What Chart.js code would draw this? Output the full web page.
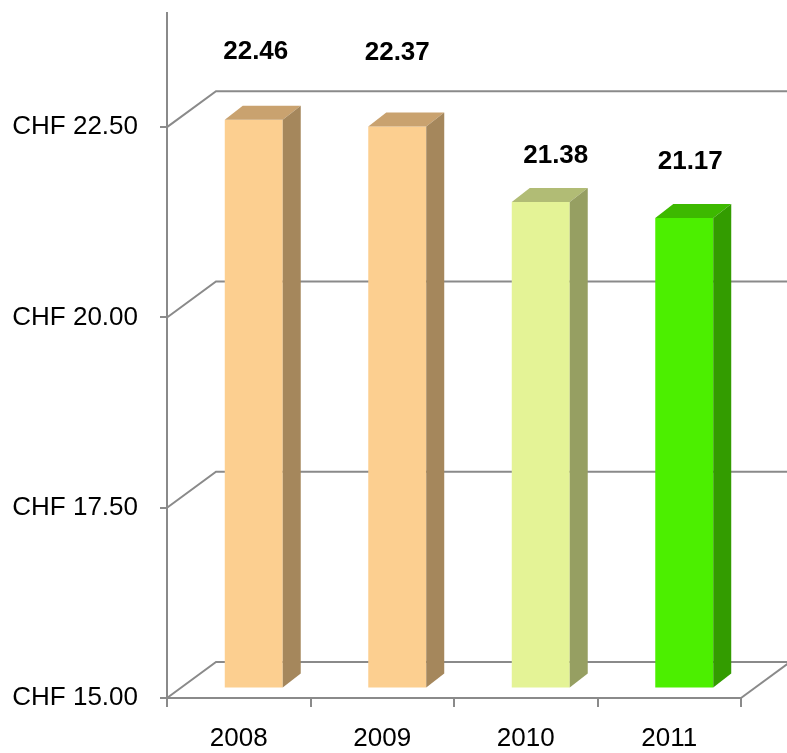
<!DOCTYPE html>
<html>
<head>
<meta charset="utf-8">
<script src="https://cdn.jsdelivr.net/npm/chart.js@4.4.1/dist/chart.umd.min.js"></script>
<style>
html, body { margin: 0; padding: 0; background: #fff; }
</style>
</head>
<body>
<canvas id="myChart" width="787" height="753"></canvas>
<script>
var years = ['2008', '2009', '2010', '2011'];
var prices = [22.46, 22.37, 21.38, 21.17];
var tickValues = [15, 17.5, 20, 22.5];

// face colours (front / top / side)
var frontColors = ['#FCCF90', '#FCCF90', '#E4F396', '#4CEF00'];
var topColors = ['#C9A26F', '#C9A26F', '#B1BC75', '#3DB900'];
var sideColors = ['#A5875C', '#A5875C', '#969F62', '#339C00'];

var gridColor = '#8a8a8a';
var fontFamily = "'Liberation Sans', Arial, sans-serif";

var wall = { dx: 49, dy: -36 };
var box = { dx: 15, dy: -10.5, depthX: 18, depthY: -14 };
var labelNudgeX = [2, 0, 15, 6];
var labelLift = [68, 74, 46, 56];

var threeD = {
    id: 'threeD',
    beforeDatasetsDraw: function (chart) {
        var ctx = chart.ctx;
        var y = chart.scales.y;
        var area = chart.chartArea;

        ctx.save();
        ctx.strokeStyle = gridColor;
        ctx.lineWidth = 2;
        tickValues.forEach(function (v) {
            var py = y.getPixelForValue(v);
            ctx.beginPath();
            ctx.moveTo(area.left, py);
            ctx.lineTo(area.left + wall.dx, py + wall.dy);
            ctx.lineTo(area.right + wall.dx, py + wall.dy);
            ctx.stroke();
        });
        // right edge of the floor
        ctx.beginPath();
        ctx.moveTo(area.right, area.bottom);
        ctx.lineTo(area.right + wall.dx, area.bottom + wall.dy);
        ctx.stroke();
        ctx.restore();

        // bars sit a bit back in depth
        ctx.save();
        ctx.translate(box.dx, box.dy);
    },
    afterDatasetsDraw: function (chart) {
        var ctx = chart.ctx;
        var meta = chart.getDatasetMeta(0);
        var floor = chart.scales.y.getPixelForValue(chart.scales.y.min);

        meta.data.forEach(function (el, i) {
            var p = el.getProps(['x', 'y', 'width'], true);
            var l = p.x - p.width / 2;
            var r = p.x + p.width / 2;

            ctx.fillStyle = topColors[i];
            ctx.beginPath();
            ctx.moveTo(l, p.y);
            ctx.lineTo(l + box.depthX, p.y + box.depthY);
            ctx.lineTo(r + box.depthX, p.y + box.depthY);
            ctx.lineTo(r, p.y);
            ctx.closePath();
            ctx.fill();

            ctx.fillStyle = sideColors[i];
            ctx.beginPath();
            ctx.moveTo(r, p.y);
            ctx.lineTo(r + box.depthX, p.y + box.depthY);
            ctx.lineTo(r + box.depthX, floor + box.depthY);
            ctx.lineTo(r, floor);
            ctx.closePath();
            ctx.fill();
        });
        ctx.restore();

        // value labels
        ctx.save();
        ctx.fillStyle = '#000';
        ctx.font = 'bold 26px ' + fontFamily;
        ctx.textAlign = 'center';
        ctx.textBaseline = 'middle';
        meta.data.forEach(function (el, i) {
            var p = el.getProps(['x', 'y'], true);
            ctx.fillText(prices[i].toFixed(2), p.x + box.dx + labelNudgeX[i], p.y + box.dy - labelLift[i]);
        });
        ctx.restore();
    }
};

var myChart = new Chart(document.getElementById('myChart'), {
    type: 'bar',
    data: {
        labels: years,
        datasets: [{
            data: prices,
            backgroundColor: frontColors,
            borderWidth: 0,
            barPercentage: 0.404,
            categoryPercentage: 1
        }]
    },
    options: {
        responsive: false,
        animation: false,
        devicePixelRatio: 1,
        layout: { padding: { top: 13, right: 46, left: 0, bottom: 0 } },
        plugins: {
            legend: { display: false },
            tooltip: { enabled: false }
        },
        scales: {
            x: {
                grid: { drawOnChartArea: false, color: gridColor, lineWidth: 2, tickLength: 9, offset: true },
                border: { color: gridColor, width: 2 },
                ticks: { color: '#000', font: { family: fontFamily, size: 26 }, padding: 16, maxRotation: 0 },
                afterFit: function (s) {
                    s.height = 55;
                    s.paddingLeft = 0;
                    s.paddingRight = 0;
                }
            },
            y: {
                min: 15,
                max: 24,
                grid: { drawOnChartArea: false, color: gridColor, lineWidth: 2, tickLength: 7 },
                border: { color: gridColor, width: 2 },
                ticks: {
                    color: '#000',
                    font: { family: fontFamily, size: 26 },
                    padding: 22,
                    callback: function (v) { return 'CHF ' + v.toFixed(2); }
                },
                afterBuildTicks: function (s) {
                    s.ticks = tickValues.map(function (v) { return { value: v }; });
                },
                afterFit: function (s) {
                    s.width = 167;
                    s.paddingTop = 0;
                    s.paddingBottom = 0;
                }
            }
        }
    },
    plugins: [threeD]
});
</script>
</body>
</html>
